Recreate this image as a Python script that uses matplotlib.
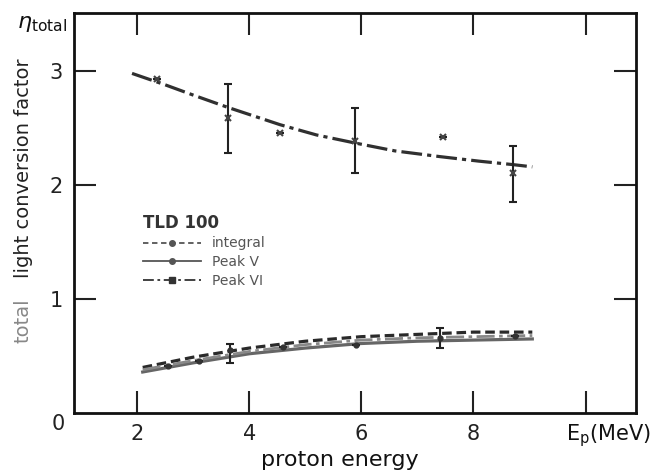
import matplotlib
matplotlib.use("Agg")
import matplotlib.pyplot as plt
from matplotlib.lines import Line2D

plt.rcParams['font.family'] = ['DejaVu Sans']

# upper curve (Peak VI) and its points
x_up = [1.91, 2.5, 3.0, 3.63, 4.55, 5.2, 5.88, 6.6, 7.4, 8.1, 8.7, 9.05]
y_up = [2.98, 2.88, 2.79, 2.68, 2.53, 2.44, 2.37, 2.30, 2.25, 2.21, 2.18, 2.16]
px_up = [2.36, 3.63, 4.55, 5.88, 7.45, 8.7]
py_up = [2.93, 2.59, 2.46, 2.39, 2.42, 2.11]
err_up_lo = [0, 0.31, 0, 0.28, 0, 0.26]
err_up_hi = [0, 0.30, 0, 0.29, 0, 0.23]

# lower curves
x_lo = [2.1, 3.0, 4.0, 5.0, 6.0, 7.0, 8.0, 9.05]
y_int = [0.40, 0.49, 0.57, 0.63, 0.67, 0.69, 0.71, 0.71]
y_pv = [0.36, 0.44, 0.52, 0.57, 0.61, 0.63, 0.64, 0.65]
y_pvi = [0.38, 0.46, 0.54, 0.60, 0.64, 0.66, 0.67, 0.68]
px_lo = [2.55, 3.1, 3.66, 4.6, 5.9, 7.4, 8.75]
py_lo = [0.41, 0.46, 0.55, 0.58, 0.60, 0.66, 0.68]
err_lo_lo = [0, 0, 0.11, 0, 0, 0.09, 0]
err_lo_hi = [0, 0, 0.06, 0, 0, 0.09, 0]

xticks = [2, 4, 6, 8, 10]
xticklabels = ['2', '4', '6', '8', '']
yticks = [1, 2, 3]

fig = plt.figure(figsize=(6.51, 4.73), dpi=100)
ax = fig.add_axes([0.1137, 0.1268, 0.977 - 0.1137, 0.9725 - 0.1268])

dashdot = (0, (6.5, 1.6, 1.3, 1.6))
ax.plot(x_up, y_up, color='#303030', lw=2.3, linestyle=dashdot)
ax.errorbar(px_up, py_up, yerr=[err_up_lo, err_up_hi], fmt='x', ms=4, mew=1.5,
            color='#444444', ecolor='#222222', elinewidth=1.5, capsize=3, capthick=1.5)

ax.plot(x_lo, y_int, color='#2a2a2a', lw=2.3, linestyle=(0, (3, 1.5)))
ax.plot(x_lo, y_pv, color='#666666', lw=2.3, linestyle='-')
ax.plot(x_lo, y_pvi, color='#888888', lw=2.0, linestyle=dashdot)
ax.errorbar(px_lo, py_lo, yerr=[err_lo_lo, err_lo_hi], fmt='o', ms=3.5,
            color='#333333', ecolor='#222222', elinewidth=1.5, capsize=3, capthick=1.5)

ax.set_xlim(0.875, 10.9)
ax.set_ylim(0, 3.51)
ax.set_xticks(xticks)
ax.set_xticklabels(xticklabels)
ax.set_yticks(yticks)
ax.tick_params(direction='in', length=16, width=1.5, top=True, right=True,
               labelsize=15, pad=8, colors='#222222')
for s in ax.spines.values():
    s.set_linewidth(2)
    s.set_color('#111111')

ax.text(0.72, -0.1, '0', fontsize=15, ha='right', va='center', color='#222222',
        clip_on=False)
ax.text(10.4, -0.2, r'E$_{\rm p}$(MeV)', fontsize=15, ha='center', va='center',
        color='#111111', clip_on=False)
ax.text(0.3, 3.41, r'$\eta_{\rm total}$', fontsize=16, ha='center', va='center',
        color='#111111', clip_on=False)
fig.text(0.522, 0.028, 'proton energy', fontsize=16, ha='center', va='center', color='#111111')
fig.text(0.036, 0.645, 'light conversion factor', fontsize=14, rotation=90,
         ha='center', va='center', color='#222222')
fig.text(0.036, 0.323, 'total', fontsize=14, rotation=90,
         ha='center', va='center', color='#888888')

handles = [
    Line2D([], [], color='#555555', lw=1.3, linestyle=(0, (3, 2)), marker='o', ms=4),
    Line2D([], [], color='#555555', lw=1.3, linestyle='-', marker='o', ms=4),
    Line2D([], [], color='#333333', lw=1.3, linestyle=(0, (6, 2, 1.5, 2)), marker='s', ms=4),
]
leg = ax.legend(handles, ['integral', 'Peak V', 'Peak VI'], title='TLD 100',
                loc='upper left', bbox_to_anchor=(0.1, 0.53), frameon=False,
                fontsize=10, title_fontsize=12, handlelength=4.2, labelspacing=0.35,
                alignment='left', labelcolor='#555555')
leg.get_title().set_fontweight('bold')
leg.get_title().set_color('#333333')

fig.savefig('out.png', dpi=100)
